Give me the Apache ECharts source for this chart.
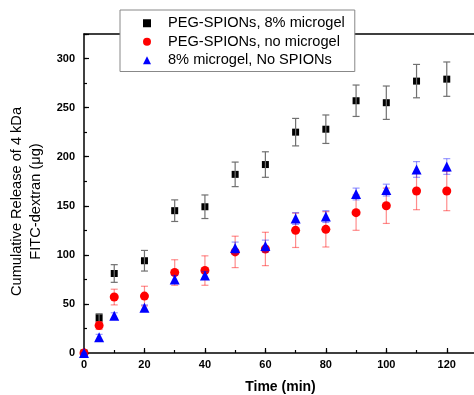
<!DOCTYPE html>
<html>
<head>
<meta charset="utf-8">
<script src="https://cdn.jsdelivr.net/npm/echarts@6/dist/echarts.min.js"></script>
<style>
  html, body { margin: 0; padding: 0; background: #fff; }
  #main { width: 474px; height: 395px; }
</style>
</head>
<body>
<div id="main"></div>
<script>
// time points (min)
var times = [0, 5, 10, 20, 30, 40, 50, 60, 70, 80, 90, 100, 110, 120];

// PEG-SPIONs, 8% microgel
var sqVal = [0, 36, 81, 94, 145, 149, 182, 192, 225, 228, 257, 255, 277, 279];
var sqErr = [0, 4, 9, 10.5, 11, 12, 12.5, 13, 14, 14.5, 16, 17, 17, 17.5];
// PEG-SPIONs, no microgel
var ciVal = [0, 28, 57, 58, 82, 84, 103, 106, 125, 126, 143, 150, 165, 165];
var ciErr = [0, 4, 8, 10, 13, 15, 16, 17, 17.5, 18, 18, 18, 19, 20];
// 8% microgel, No SPIONs
var trVal = [0, 16, 38, 46, 75, 79, 107, 109, 137, 139, 162, 166, 187, 190];
var trErr = [0, 3, 3, 3, 4, 4, 6, 6, 6, 6, 6, 6, 8, 8];

var names = ['PEG-SPIONs, 8% microgel', 'PEG-SPIONs, no microgel', '8% microgel, No SPIONs'];

var chart = echarts.init(document.getElementById('main'));

function pts(vals) {
  return times.map(function (t, i) { return [t, vals[i]]; });
}
function bars(vals, errs) {
  return times.map(function (t, i) { return [t, vals[i] - errs[i], vals[i] + errs[i]]; });
}
// error bar drawer
function errSeries(name, vals, errs, color) {
  return {
    name: name,
    type: 'custom',
    data: bars(vals, errs),
    encode: { x: 0, y: [1, 2] },
    z: 3,
    silent: true,
    renderItem: function (params, api) {
      var x = api.value(0);
      var lo = api.coord([x, api.value(1)]);
      var hi = api.coord([x, api.value(2)]);
      var w = 3.5;
      var st = { stroke: color, lineWidth: 1.2 };
      return {
        type: 'group',
        children: [
          { type: 'line', shape: { x1: lo[0], y1: lo[1], x2: hi[0], y2: hi[1] }, style: st },
          { type: 'line', shape: { x1: lo[0] - w, y1: lo[1], x2: lo[0] + w, y2: lo[1] }, style: st },
          { type: 'line', shape: { x1: hi[0] - w, y1: hi[1], x2: hi[0] + w, y2: hi[1] }, style: st }
        ]
      };
    }
  };
}

var lbl = { color: '#000', fontFamily: 'Liberation Sans', fontWeight: 'bold', fontSize: 11 };

var option = {
  animation: false,
  grid: {
    left: 84, top: 34, right: -3, bottom: 42,
    outerBoundsMode: 'none', containLabel: false
  },
  legend: {
    orient: 'vertical',
    left: 120, top: 10,
    padding: [4, 10, 2, 23],
    itemGap: 0,
    itemWidth: 8, itemHeight: 8,
    backgroundColor: '#fff',
    borderColor: '#888', borderWidth: 1,
    z: 10,
    textStyle: {
      color: '#000', fontFamily: 'Liberation Sans', fontSize: 14.6,
      lineHeight: 18.5, padding: [0, 0, 0, 12]
    },
    data: [
      { name: names[0], icon: 'rect' },
      { name: names[1], icon: 'circle' },
      { name: names[2], icon: 'triangle' }
    ]
  },
  xAxis: [{
    type: 'value', min: 0, max: 130, interval: 10,
    name: 'Time (min)', nameLocation: 'middle', nameGap: 27,
    nameTextStyle: { color: '#000', fontFamily: 'Liberation Sans', fontWeight: 'bold', fontSize: 14 },
    axisLine: { lineStyle: { color: '#000', width: 1.5 } },
    axisTick: { inside: true, length: 3, lineStyle: { color: '#000', width: 1.2 } },
    axisLabel: Object.assign({ margin: 6, formatter: function (v) { return v % 20 === 0 && v <= 120 ? v : ''; } }, lbl),
    splitLine: { show: false }
  }, {
    type: 'value', min: 0, max: 130, interval: 20, position: 'bottom',
    axisLine: { show: false },
    axisTick: { inside: true, length: 5, lineStyle: { color: '#000', width: 1.2 } },
    axisLabel: { show: false },
    splitLine: { show: false }
  }, {
    // top frame line
    type: 'value', min: 0, max: 130, position: 'top',
    axisLine: { lineStyle: { color: '#000', width: 1.5 } },
    axisTick: { show: false },
    axisLabel: { show: false },
    splitLine: { show: false }
  }],
  yAxis: [{
    type: 'value', min: 0, max: 325, interval: 25,
    name: 'Cumulative Release of 4 kDa\nFITC-dextran (\u03bcg)',
    nameLocation: 'middle', nameGap: 38, nameRotate: 90,
    nameTextStyle: { color: '#000', fontFamily: 'Liberation Sans', fontSize: 14.6, lineHeight: 19, padding: [0, 16, 0, 0] },
    axisLine: { lineStyle: { color: '#000', width: 1.5 } },
    axisTick: { inside: true, length: 3, lineStyle: { color: '#000', width: 1.2 } },
    axisLabel: Object.assign({ margin: 9, formatter: function (v) { return v % 50 === 0 ? v : ''; } }, lbl),
    splitLine: { show: false }
  }, {
    type: 'value', min: 0, max: 325, interval: 50, position: 'left',
    axisLine: { show: false },
    axisTick: { inside: true, length: 5, lineStyle: { color: '#000', width: 1.2 } },
    axisLabel: { show: false },
    splitLine: { show: false }
  }],
  series: [
    {
      name: names[0], type: 'scatter', symbol: 'rect', symbolSize: 7,
      itemStyle: { color: '#000', opacity: 1 }, data: pts(sqVal), z: 2
    },
    errSeries('e0', sqVal, sqErr, '#707070'),
    {
      name: names[1], type: 'scatter', symbol: 'circle', symbolSize: 9,
      itemStyle: { color: '#ff0000', opacity: 1 }, data: pts(ciVal), z: 4
    },
    errSeries('e1', ciVal, ciErr, 'rgba(255,0,0,0.45)'),
    {
      name: names[2], type: 'scatter', symbol: 'triangle', symbolSize: 10,
      itemStyle: { color: '#0000ff', opacity: 1 }, data: pts(trVal), z: 5
    },
    Object.assign(errSeries('e2', trVal, trErr, 'rgba(0,0,255,0.4)'), { z: 6 })
  ]
};

chart.setOption(option);
</script>
</body>
</html>
